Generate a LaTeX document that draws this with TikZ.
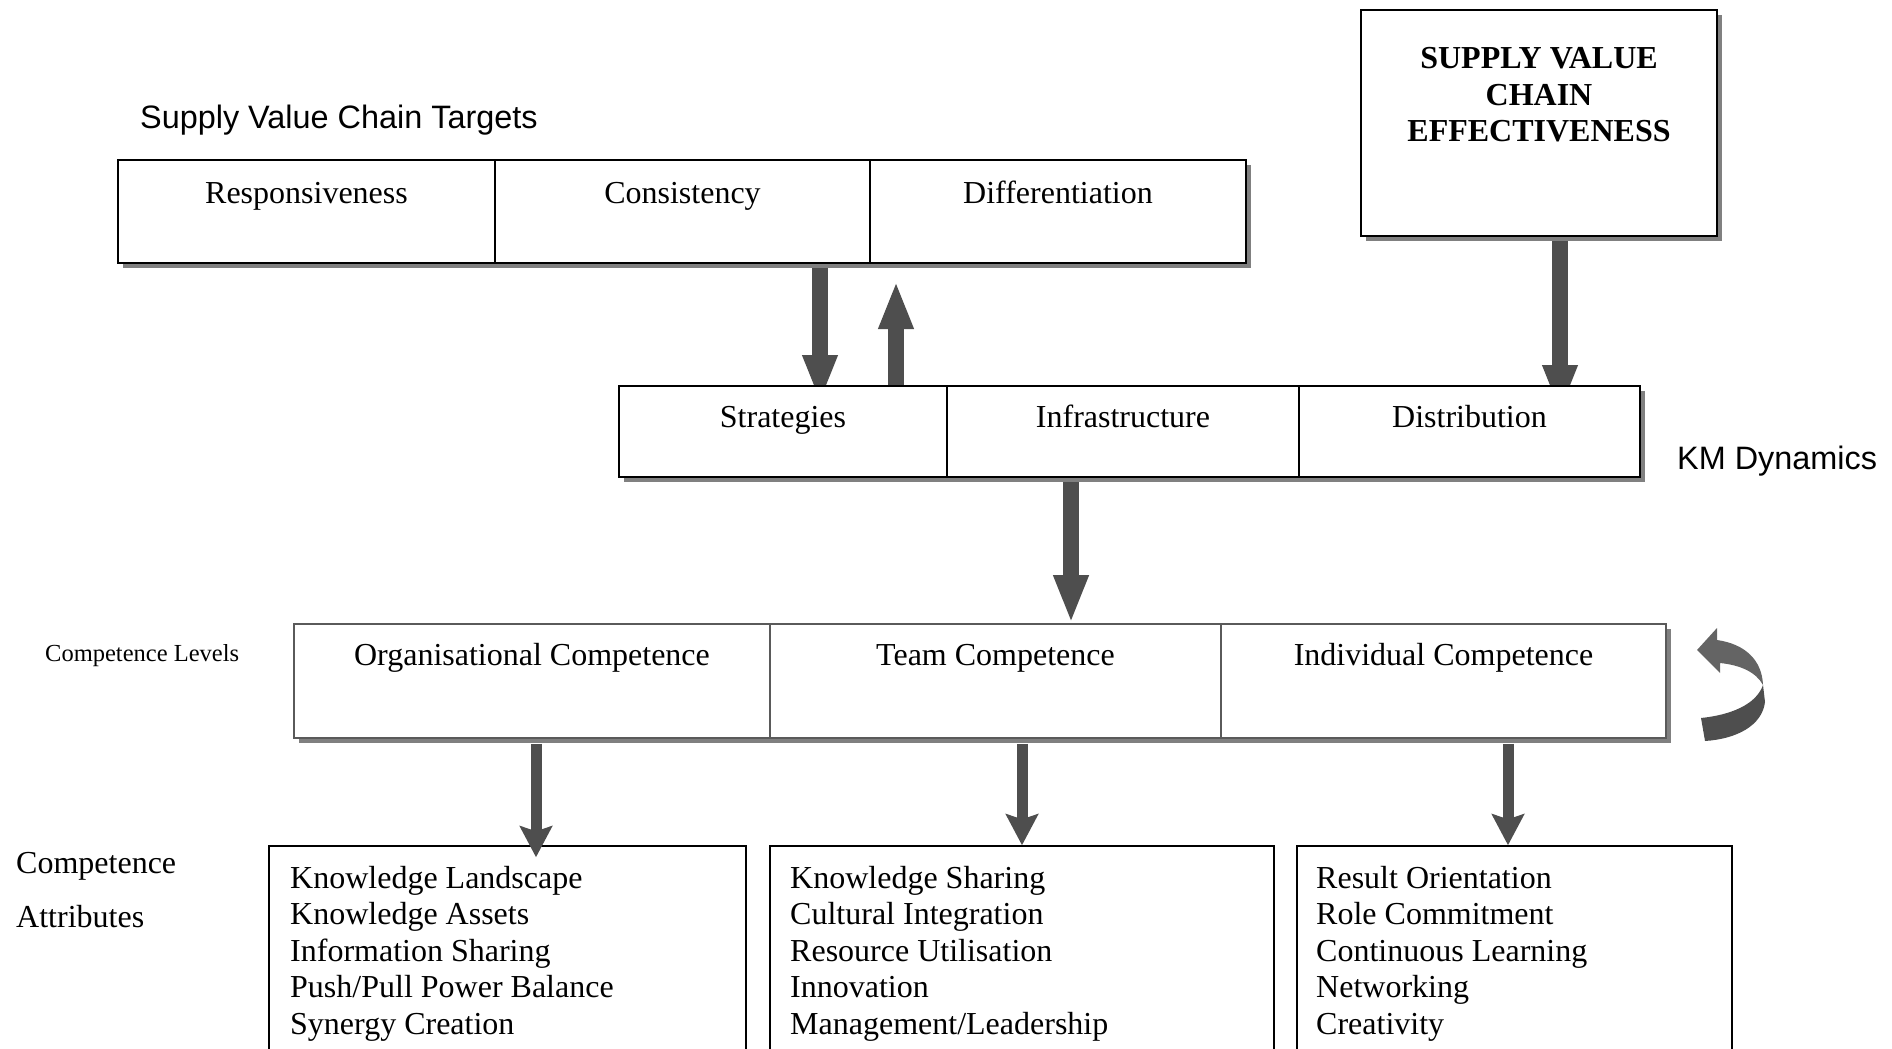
\documentclass[tikz,border=0pt]{standalone}
\usepackage{fontspec}
\setmainfont{Liberation Serif}
\setsansfont{Liberation Sans}
\usetikzlibrary{arrows.meta,shadows}
\definecolor{arrowgray}{HTML}{4E4E4E}
\definecolor{ribbonlight}{HTML}{646464}
\definecolor{framegray}{HTML}{5A5A5A}
\definecolor{shadegray}{HTML}{808080}
\pgfdeclarelayer{background}
\pgfsetlayers{background,main}
\begin{document}
\begin{tikzpicture}[x=1pt,y=-1pt,
  shade/.style={drop shadow={shadow xshift=5pt,shadow yshift=-5pt,fill=shadegray,opacity=1}},
  cell/.style={draw,fill=white,inner sep=0pt,line width=2pt,shade},
  compcell/.style={draw=framegray,fill=white,inner sep=0pt,line width=1.6pt,shade},
  attrbox/.style={draw,fill=white,inner sep=0pt,line width=1.5pt,minimum height=260pt},
  lbl/.style={inner sep=0pt,font=\fontsize{32}{36.5}\selectfont},
  celllbl/.style={inner sep=0pt,anchor=base,font=\fontsize{32}{36.5}\selectfont},
  sanslbl/.style={inner sep=0pt,font=\sffamily\fontsize{32.4}{36}\selectfont},
  listlbl/.style={inner sep=0pt,anchor=north west,align=left,font=\fontsize{32}{36.5}\selectfont},
  bigarrow/.style={draw=arrowgray,line width=16pt,-{Triangle[length=48pt,width=32pt]}},
  smallarrow/.style={draw=arrowgray,line width=11pt,-{Stealth[length=31pt,width=32pt,inset=5pt]}}
]
\useasboundingbox (0,0) rectangle (1892,1049);
\clip (0,0) rectangle (1892,1049);

% Supply value chain targets
\node[sanslbl,anchor=west] (tgtitle) at (140,120) {Supply Value Chain Targets};
\node[cell,minimum width=377pt,minimum height=103pt] (resp) at (306.5,211.5) {};
\node[cell,minimum width=375pt,minimum height=103pt] (cons) at (682.5,211.5) {};
\node[cell,minimum width=376pt,minimum height=103pt] (diff) at (1058,211.5) {};
\node[celllbl] (tresp) at (306.5,203) {Responsiveness};
\node[celllbl] (tcons) at (682.5,203) {Consistency};
\node[celllbl] (tdiff) at (1058,203) {Differentiation};

% Effectiveness box
\node[cell,minimum width=356pt,minimum height=226pt] (svce) at (1539,123) {};
\node[lbl,align=center,font=\bfseries\fontsize{32}{36.5}\selectfont] (tsvce) at (1539,95)
  {SUPPLY VALUE\\CHAIN\\EFFECTIVENESS};

% KM dynamics row
\node[cell,minimum width=328pt,minimum height=91pt] (strat) at (783,431.5) {};
\node[cell,minimum width=352pt,minimum height=91pt] (infra) at (1123,431.5) {};
\node[cell,minimum width=341pt,minimum height=91pt] (dist) at (1469.5,431.5) {};
\node[celllbl] (tstrat) at (783,427) {Strategies};
\node[celllbl] (tinfra) at (1123,427) {Infrastructure};
\node[celllbl] (tdist) at (1469.5,427) {Distribution};
\node[sanslbl,anchor=west] (kmtitle) at (1677,461) {KM Dynamics};

% Competence levels row
\node[inner sep=0pt,anchor=west,font=\fontsize{24.5}{28}\selectfont] (cltitle) at (45,656) {Competence Levels};
\node[compcell,minimum width=476pt,minimum height=114pt] (org) at (532,681) {};
\node[compcell,minimum width=451pt,minimum height=114pt] (team) at (995.5,681) {};
\node[compcell,minimum width=445pt,minimum height=114pt] (indiv) at (1443.5,681) {};
\node[celllbl] (torg) at (532,665) {Organisational Competence};
\node[celllbl] (tteam) at (995.5,665) {Team Competence};
\node[celllbl] (tindiv) at (1443.5,665) {Individual Competence};

% Competence attributes
\node[lbl,anchor=west] (catitle1) at (16,866.5) {Competence};
\node[lbl,anchor=west] (catitle2) at (16,917) {Attributes};
\node[attrbox,minimum width=477pt] (attr1) at (507.5,976) {};
\node[attrbox,minimum width=504pt] (attr2) at (1022,976) {};
\node[attrbox,minimum width=435pt] (attr3) at (1514.5,976) {};
\node[listlbl] (list1) at (290,866) {Knowledge Landscape\\Knowledge Assets\\Information Sharing\\Push/Pull Power Balance\\Synergy Creation};
\node[listlbl] (list2) at (790,866) {Knowledge Sharing\\Cultural Integration\\Resource Utilisation\\Innovation\\Management/Leadership};
\node[listlbl] (list3) at (1316,866) {Result Orientation\\Role Commitment\\Continuous Learning\\Networking\\Creativity};

% Block arrows running behind the boxes
\begin{pgfonlayer}{background}
  \draw[bigarrow] ([xshift=137.5pt]cons.south) -- ([xshift=37pt,yshift=-18pt]strat.north);
  \draw[bigarrow] ([xshift=113pt]strat.north) -- ([xshift=-162pt,yshift=-17pt]diff.south);
  \draw[bigarrow] ([xshift=21pt]svce.south) -- ([xshift=90.5pt,yshift=-28pt]dist.north);
  \draw[bigarrow] ([xshift=-52pt]infra.south) -- ([xshift=75.5pt]team.north);
\end{pgfonlayer}

% Arrows into the attribute boxes
\draw[smallarrow] ([xshift=4pt,yshift=-5pt]org.south) -- ([xshift=28.5pt,yshift=-12pt]attr1.north);
\draw[smallarrow] ([xshift=26.5pt,yshift=-5pt]team.south) -- (attr2.north);
\draw[smallarrow] ([xshift=64.5pt,yshift=-5pt]indiv.south) -- ([xshift=-6.5pt]attr3.north);

% Curved ribbon arrow beside the competence levels
\fill[arrowgray] (1763,685) -- (1765,702)
  .. controls (1762,726) and (1736,739) .. (1705,741)
  -- (1701,718)
  .. controls (1730,715) and (1756,705) .. (1763,685) -- cycle;
\fill[ribbonlight] (1697,650) -- (1717,628) -- (1717,640)
  .. controls (1745,644) and (1762,660) .. (1763,685)
  .. controls (1756,672) and (1740,665) .. (1720,663)
  -- (1720,673) -- cycle;
\end{tikzpicture}
\end{document}
